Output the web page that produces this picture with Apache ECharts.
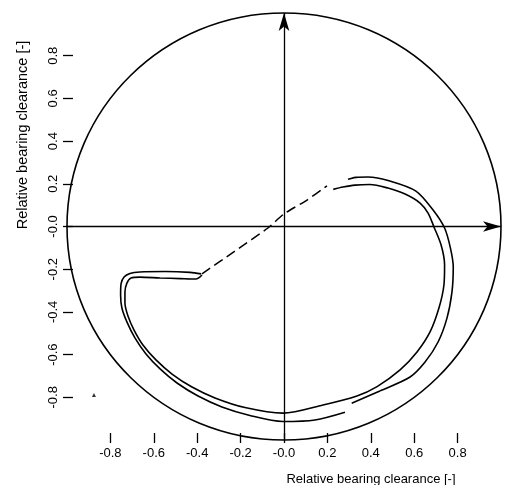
<!DOCTYPE html>
<html>
<head>
<meta charset="utf-8">
<title>Relative bearing clearance orbit</title>
<script src="https://cdn.jsdelivr.net/npm/echarts@6/dist/echarts.min.js"></script>
<style>
  html, body { margin: 0; padding: 0; background: #ffffff; }
  #chart { width: 508px; height: 485px; }
</style>
</head>
<body>
<div id="chart"></div>
<script>
// Tick positions and their printed labels (shared by both axes)
const tickValues = [-0.8, -0.6, -0.4, -0.2, 0, 0.2, 0.4, 0.6, 0.8];
const tickLabels = ['-0.8', '-0.6', '-0.4', '-0.2', '-0.0', '0.2', '0.4', '0.6', '0.8'];

// Bearing boundary: centre x, centre y, radius (relative clearance)
const boundary = [[0, 0, 1]];

// Outer journal orbit, from the left corner round the bottom to the break
const orbitOuterA = [
  [-0.382, -0.222], [-0.433, -0.215], [-0.548, -0.211], [-0.664, -0.213],
  [-0.710, -0.220], [-0.737, -0.237], [-0.751, -0.269], [-0.753, -0.321],
  [-0.747, -0.382], [-0.724, -0.447], [-0.687, -0.522], [-0.636, -0.597],
  [-0.571, -0.667], [-0.493, -0.733], [-0.396, -0.794], [-0.286, -0.845],
  [-0.157, -0.885], [-0.005, -0.913], [0.143, -0.906], [0.281, -0.870]
];

// Outer journal orbit, from the break up the right side to the top
const orbitOuterB = [
  [0.312, -0.828], [0.442, -0.770], [0.581, -0.705], [0.650, -0.635],
  [0.710, -0.541], [0.751, -0.429], [0.774, -0.307], [0.780, -0.190],
  [0.767, -0.101], [0.740, -0.007], [0.687, 0.077], [0.608, 0.166],
  [0.488, 0.213], [0.387, 0.232], [0.332, 0.230], [0.295, 0.221]
];

// Inner journal orbit
const orbitInner = [
  [-0.378, -0.227], [-0.406, -0.246], [-0.479, -0.244], [-0.571, -0.241],
  [-0.664, -0.237], [-0.705, -0.241], [-0.724, -0.265], [-0.733, -0.307],
  [-0.733, -0.358], [-0.719, -0.419], [-0.691, -0.485], [-0.650, -0.555],
  [-0.590, -0.625], [-0.516, -0.691], [-0.424, -0.752], [-0.318, -0.803],
  [-0.180, -0.848], [-0.005, -0.874], [0.180, -0.836], [0.336, -0.794],
  [0.429, -0.750], [0.535, -0.672], [0.613, -0.588], [0.673, -0.494],
  [0.714, -0.382], [0.737, -0.274], [0.740, -0.180], [0.724, -0.087],
  [0.691, -0.002], [0.664, 0.063], [0.627, 0.110], [0.558, 0.152],
  [0.479, 0.180], [0.396, 0.197], [0.327, 0.194], [0.272, 0.185],
  [0.227, 0.174]
];

// Dashed transition path across the centre
const transitionPath = [
  [-0.378, -0.222], [-0.226, -0.115], [-0.074, -0.007], [0.000, 0.059],
  [0.106, 0.124], [0.198, 0.190]
];

// Isolated plotted point at the lower left
const strayMark = [[-0.876, -0.789]];

const FONT = "'Liberation Sans', Arial, sans-serif";
const INK = '#000000';

function tickText(v) {
  const i = tickValues.findIndex(t => Math.abs(t - v) < 1e-9);
  return i >= 0 ? tickLabels[i] : '';
}

const chart = echarts.init(document.getElementById('chart'), null, { renderer: 'canvas' });

chart.setOption({
  backgroundColor: '#ffffff',
  animation: false,
  grid: { left: 67, right: 7, top: 13, bottom: 45, containLabel: false },
  xAxis: {
    type: 'value', min: -1, max: 1, offset: 3,
    axisLine: { show: false, onZero: false },
    splitLine: { show: false },
    axisTick: { show: true, inside: true, length: 10, customValues: tickValues,
                lineStyle: { color: INK, width: 1.3 } },
    axisLabel: { show: true, customValues: tickValues, formatter: tickText, margin: 4,
                 color: INK, fontFamily: FONT, fontSize: 13 }
  },
  yAxis: {
    type: 'value', min: -1, max: 1, offset: 4,
    axisLine: { show: false, onZero: false },
    splitLine: { show: false },
    axisTick: { show: true, inside: true, length: 10, customValues: tickValues,
                lineStyle: { color: INK, width: 1.3 } },
    axisLabel: { show: true, customValues: tickValues, formatter: tickText, margin: 3,
                 rotate: 90, color: INK, fontFamily: FONT, fontSize: 13 }
  },
  graphic: [
    { type: 'text', x: 371, y: 479,
      style: { text: 'Relative bearing clearance [-]', fill: INK, font: '13px ' + FONT,
               align: 'center', verticalAlign: 'middle' } },
    { type: 'text', x: 23, y: 135, rotation: Math.PI / 2,
      style: { text: 'Relative bearing clearance [-]', fill: INK, font: '14.5px ' + FONT,
               align: 'center', verticalAlign: 'middle' } }
  ],
  series: [
    {
      name: 'boundary', type: 'custom', data: boundary, clip: false,
      renderItem: function (params, api) {
        const c = api.coord([api.value(0), api.value(1)]);
        const s = api.size([api.value(2), api.value(2)]);
        return {
          type: 'ellipse',
          shape: { cx: c[0], cy: c[1], rx: s[0], ry: s[1] },
          style: { fill: 'none', stroke: INK, lineWidth: 1.6 }
        };
      }
    },
    {
      name: 'axes', type: 'line', data: [], silent: true,
      markLine: {
        silent: true, animation: false,
        label: { show: false },
        lineStyle: { color: INK, width: 1.3, type: 'solid' },
        data: [
          [ { coord: [-1, 0], symbol: 'none' },
            { coord: [1, 0], symbol: 'arrow', symbolSize: [8, 18] } ],
          [ { coord: [0, -1], symbol: 'none' },
            { coord: [0, 1], symbol: 'arrow', symbolSize: [8, 18] } ]
        ]
      }
    },
    { name: 'outerA', type: 'line', data: orbitOuterA, smooth: 0.3, showSymbol: false,
      lineStyle: { color: INK, width: 1.6 } },
    { name: 'outerB', type: 'line', data: orbitOuterB, smooth: 0.3, showSymbol: false,
      lineStyle: { color: INK, width: 1.6 } },
    { name: 'inner', type: 'line', data: orbitInner, smooth: 0.3, showSymbol: false,
      lineStyle: { color: INK, width: 1.6 } },
    { name: 'transition', type: 'line', data: transitionPath, smooth: 0.2, showSymbol: false,
      lineStyle: { color: INK, width: 1.5, type: [10, 5] } },
    { name: 'mark', type: 'scatter', data: strayMark, symbol: 'triangle', symbolSize: 4,
      itemStyle: { color: INK } }
  ]
});
</script>
</body>
</html>
